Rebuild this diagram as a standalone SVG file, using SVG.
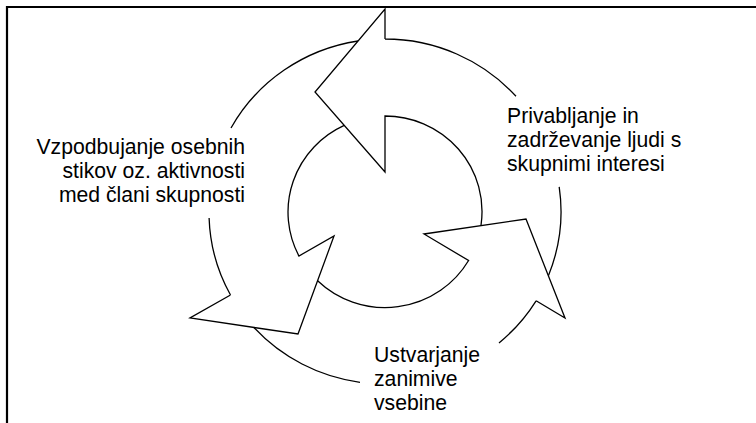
<svg xmlns="http://www.w3.org/2000/svg" width="756" height="423" viewBox="0 0 756 423">
<style>
.frame{fill:none;stroke:#000;stroke-width:2.2}
.arrow{fill:none;stroke:#000;stroke-width:1.3;stroke-linejoin:miter}
.label{font-family:"Liberation Sans",Arial,sans-serif;font-size:21.2px;fill:#000}
</style>
<rect width="756" height="423" fill="#fff"/>
<path class="frame" d="M7,424 V7 H757"/>
<g id="connectors">
  <path id="arrow-top" class="arrow" d="M385,39 L385,9 L315,92 L385,172 L385,116 A97,95.5 0 0 1 481,225.3 M385,39 A176,172.5 0 0 1 516,96.3 M559.2,186.9 A176,172.5 0 0 1 548.5,275.4"/>
  <path id="arrow-right" class="arrow" d="M536.1,300.8 L565,318 L526,219 L424,234 L468.6,260.5 A97,95.5 0 0 1 317.6,280.7 M536.1,300.8 A176,172.5 0 0 1 499,342.9 M360,382.3 A176,172.5 0 0 1 253.9,327.5"/>
  <path id="arrow-left" class="arrow" d="M230.5,295 L190,318 L298,334 L334,236 L298.9,256 A97,95.5 0 0 1 344.2,125.4 M230.5,295 A176,172.5 0 0 1 209.1,218 M231,128 A176,172.5 0 0 1 358,41"/>
</g>
<g id="node-privabljanje">
  <text class="label" x="507" y="123">Privabljanje in</text>
  <text class="label" x="507" y="147">zadrževanje ljudi s</text>
  <text class="label" x="507" y="171">skupnimi interesi</text>
</g>
<g id="node-ustvarjanje">
  <text class="label" x="374" y="362">Ustvarjanje</text>
  <text class="label" x="374" y="386">zanimive</text>
  <text class="label" x="374" y="410">vsebine</text>
</g>
<g id="node-vzpodbujanje">
  <text class="label" x="245" y="154" text-anchor="end">Vzpodbujanje osebnih</text>
  <text class="label" x="245" y="178" text-anchor="end">stikov oz. aktivnosti</text>
  <text class="label" x="245" y="202" text-anchor="end">med člani skupnosti</text>
</g>
</svg>
